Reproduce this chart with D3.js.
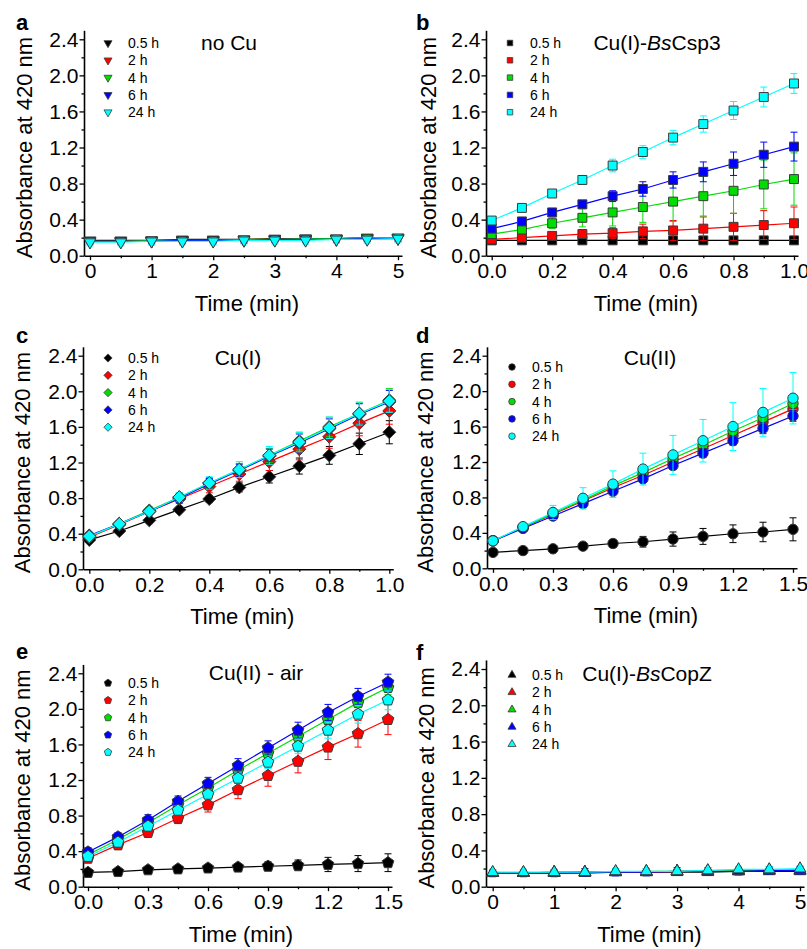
<!DOCTYPE html>
<html><head><meta charset="utf-8">
<script src="https://cdn.jsdelivr.net/npm/d3@7"></script>
<style>body{margin:0;background:#fff} svg{display:block} text{font-family:"Liberation Sans",Arial,sans-serif;fill:#000}</style>
</head><body><svg id="chart" width="807" height="949"></svg>
<script>
// ---------- data ----------
const seriesLabels = ["0.5 h", "2 h", "4 h", "6 h", "24 h"];
const seriesColors = ["#000000", "#ff0000", "#00dd00", "#0000ff", "#00ffff"];

const timeLong = [0, 0.5, 1, 1.5, 2, 2.5, 3, 3.5, 4, 4.5, 5];
const timeShort = [0, 0.1, 0.2, 0.3, 0.4, 0.5, 0.6, 0.7, 0.8, 0.9, 1.0];
const timeMid = [0, 0.15, 0.3, 0.45, 0.6, 0.75, 0.9, 1.05, 1.2, 1.35, 1.5];

const yTickLabels = ["0.0", "0.4", "0.8", "1.2", "1.6", "2.0", "2.4"];
const xTicksLong = [0, 1, 2, 3, 4, 5];
const xTicksShort = [0, 0.2, 0.4, 0.6, 0.8, 1.0];
const xTicksMid = [0, 0.3, 0.6, 0.9, 1.2, 1.5];

// a: no Cu
const noCuValues = [
  [0.17, 0.17, 0.17, 0.18, 0.18, 0.18, 0.19, 0.19, 0.19, 0.20, 0.20],
  [0.16, 0.16, 0.17, 0.17, 0.17, 0.18, 0.18, 0.19, 0.19, 0.19, 0.20],
  [0.16, 0.16, 0.17, 0.17, 0.17, 0.18, 0.18, 0.19, 0.19, 0.20, 0.20],
  [0.16, 0.16, 0.16, 0.17, 0.17, 0.17, 0.18, 0.18, 0.18, 0.19, 0.19],
  [0.15, 0.15, 0.16, 0.16, 0.16, 0.17, 0.17, 0.17, 0.18, 0.18, 0.19]
];
const noCuErrors = [
  [0.02, 0.02, 0.02, 0.02, 0.02, 0.02, 0.02, 0.02, 0.02, 0.02, 0.02],
  [0.02, 0.02, 0.02, 0.02, 0.02, 0.02, 0.02, 0.02, 0.02, 0.02, 0.02],
  [0.02, 0.02, 0.02, 0.02, 0.02, 0.02, 0.02, 0.02, 0.02, 0.02, 0.02],
  [0.03, 0.03, 0.03, 0.03, 0.03, 0.03, 0.03, 0.03, 0.03, 0.03, 0.03],
  [0.04, 0.04, 0.04, 0.04, 0.04, 0.04, 0.04, 0.04, 0.04, 0.04, 0.04]
];

// b: Cu(I)-BsCsp3
const csp3Values = [
  [0.17, 0.17, 0.17, 0.17, 0.17, 0.17, 0.17, 0.17, 0.17, 0.17, 0.17],
  [0.18, 0.20, 0.22, 0.24, 0.25, 0.27, 0.28, 0.30, 0.32, 0.34, 0.36],
  [0.24, 0.29, 0.36, 0.42, 0.48, 0.54, 0.60, 0.66, 0.72, 0.79, 0.85],
  [0.30, 0.38, 0.48, 0.57, 0.66, 0.74, 0.84, 0.93, 1.02, 1.12, 1.21],
  [0.39, 0.53, 0.69, 0.84, 1.00, 1.15, 1.31, 1.46, 1.61, 1.76, 1.91]
];
const csp3Errors = [
  [0.02, 0.02, 0.02, 0.02, 0.02, 0.02, 0.02, 0.02, 0.02, 0.02, 0.02],
  [0.02, 0.03, 0.04, 0.05, 0.06, 0.08, 0.11, 0.13, 0.15, 0.16, 0.18],
  [0.02, 0.04, 0.06, 0.10, 0.15, 0.17, 0.22, 0.22, 0.25, 0.27, 0.29],
  [0.02, 0.02, 0.03, 0.04, 0.06, 0.08, 0.09, 0.11, 0.13, 0.14, 0.16],
  [0.03, 0.03, 0.04, 0.05, 0.07, 0.07, 0.08, 0.09, 0.10, 0.11, 0.11]
];

// c: Cu(I)
const cu1Values = [
  [0.33, 0.43, 0.55, 0.67, 0.79, 0.92, 1.04, 1.16, 1.28, 1.41, 1.54],
  [0.36, 0.50, 0.65, 0.79, 0.93, 1.07, 1.21, 1.35, 1.49, 1.64, 1.78],
  [0.37, 0.51, 0.66, 0.81, 0.97, 1.12, 1.28, 1.44, 1.60, 1.75, 1.90],
  [0.38, 0.51, 0.65, 0.80, 0.96, 1.11, 1.27, 1.42, 1.58, 1.74, 1.88],
  [0.37, 0.51, 0.65, 0.81, 0.97, 1.12, 1.28, 1.43, 1.59, 1.75, 1.89]
];
const cu1Errors = [
  [0.02, 0.02, 0.03, 0.03, 0.04, 0.05, 0.07, 0.09, 0.10, 0.12, 0.13],
  [0.02, 0.03, 0.04, 0.05, 0.07, 0.08, 0.10, 0.12, 0.13, 0.14, 0.15],
  [0.03, 0.03, 0.04, 0.05, 0.06, 0.07, 0.08, 0.10, 0.11, 0.12, 0.13],
  [0.03, 0.03, 0.04, 0.05, 0.06, 0.07, 0.08, 0.10, 0.11, 0.12, 0.13],
  [0.03, 0.03, 0.04, 0.05, 0.07, 0.09, 0.10, 0.11, 0.12, 0.13, 0.13]
];

// d: Cu(II)
const cu2Values = [
  [0.18, 0.20, 0.22, 0.25, 0.28, 0.30, 0.33, 0.36, 0.39, 0.41, 0.44],
  [0.31, 0.46, 0.61, 0.76, 0.91, 1.05, 1.20, 1.35, 1.50, 1.65, 1.80],
  [0.31, 0.46, 0.62, 0.77, 0.93, 1.08, 1.24, 1.39, 1.55, 1.70, 1.86],
  [0.31, 0.45, 0.59, 0.73, 0.87, 1.01, 1.16, 1.30, 1.44, 1.58, 1.72],
  [0.31, 0.47, 0.63, 0.79, 0.95, 1.12, 1.28, 1.44, 1.60, 1.76, 1.92]
];
const cu2Errors = [
  [0.03, 0.02, 0.03, 0.03, 0.04, 0.06, 0.08, 0.09, 0.10, 0.11, 0.13],
  [0.02, 0.02, 0.03, 0.03, 0.04, 0.05, 0.06, 0.07, 0.08, 0.09, 0.10],
  [0.02, 0.02, 0.03, 0.03, 0.04, 0.04, 0.05, 0.05, 0.06, 0.06, 0.07],
  [0.02, 0.02, 0.02, 0.03, 0.03, 0.04, 0.04, 0.05, 0.05, 0.06, 0.06],
  [0.02, 0.04, 0.08, 0.12, 0.15, 0.18, 0.22, 0.24, 0.27, 0.27, 0.29]
];

// e: Cu(II) - air
const cu2AirValues = [
  [0.16, 0.17, 0.19, 0.20, 0.21, 0.22, 0.23, 0.24, 0.25, 0.26, 0.27],
  [0.32, 0.47, 0.61, 0.77, 0.92, 1.09, 1.25, 1.41, 1.57, 1.72, 1.88],
  [0.36, 0.53, 0.72, 0.92, 1.11, 1.31, 1.50, 1.69, 1.88, 2.07, 2.24],
  [0.39, 0.56, 0.75, 0.96, 1.16, 1.36, 1.56, 1.76, 1.96, 2.14, 2.30],
  [0.34, 0.50, 0.68, 0.86, 1.04, 1.22, 1.40, 1.58, 1.76, 1.94, 2.10]
];
const cu2AirErrors = [
  [0.02, 0.02, 0.02, 0.03, 0.03, 0.04, 0.05, 0.06, 0.08, 0.09, 0.10],
  [0.02, 0.03, 0.04, 0.06, 0.08, 0.10, 0.12, 0.13, 0.14, 0.15, 0.17],
  [0.03, 0.03, 0.04, 0.05, 0.05, 0.06, 0.06, 0.07, 0.07, 0.08, 0.08],
  [0.05, 0.05, 0.06, 0.06, 0.07, 0.08, 0.08, 0.09, 0.09, 0.09, 0.09],
  [0.03, 0.03, 0.04, 0.05, 0.05, 0.06, 0.07, 0.08, 0.09, 0.10, 0.11]
];

// f: Cu(I)-BsCopZ
const copZValues = [
  [0.15, 0.15, 0.15, 0.15, 0.16, 0.16, 0.16, 0.16, 0.17, 0.17, 0.17],
  [0.15, 0.15, 0.16, 0.16, 0.16, 0.16, 0.17, 0.17, 0.17, 0.18, 0.18],
  [0.15, 0.15, 0.16, 0.16, 0.16, 0.17, 0.17, 0.17, 0.18, 0.18, 0.18],
  [0.15, 0.15, 0.15, 0.16, 0.16, 0.16, 0.17, 0.17, 0.17, 0.18, 0.18],
  [0.16, 0.16, 0.16, 0.16, 0.17, 0.17, 0.17, 0.18, 0.19, 0.19, 0.20]
];
const copZErrors = [
  [0.02, 0.02, 0.02, 0.02, 0.02, 0.02, 0.02, 0.02, 0.02, 0.02, 0.02],
  [0.02, 0.02, 0.02, 0.02, 0.02, 0.02, 0.02, 0.02, 0.02, 0.02, 0.02],
  [0.02, 0.02, 0.02, 0.02, 0.02, 0.02, 0.02, 0.02, 0.02, 0.02, 0.02],
  [0.04, 0.04, 0.04, 0.04, 0.04, 0.04, 0.04, 0.04, 0.04, 0.04, 0.04],
  [0.03, 0.03, 0.03, 0.03, 0.03, 0.03, 0.03, 0.03, 0.03, 0.03, 0.03]
];

// ---------- symbols ----------
const symPentagon = {
  draw(ctx, size) {
    const r = Math.sqrt(size / 2.378);
    for (let i = 0; i < 5; i++) {
      const a = -Math.PI / 2 + i * 2 * Math.PI / 5;
      const px = r * Math.cos(a), py = r * Math.sin(a);
      if (i === 0) ctx.moveTo(px, py); else ctx.lineTo(px, py);
    }
    ctx.closePath();
  }
};
const symTriDown = {
  draw(ctx, size) {
    const s = Math.sqrt(size / (Math.sqrt(3) / 4));
    const h = s * Math.sqrt(3) / 2;
    ctx.moveTo(-s / 2, -h / 3);
    ctx.lineTo(s / 2, -h / 3);
    ctx.lineTo(0, 2 * h / 3);
    ctx.closePath();
  }
};
const symTriUp = {
  draw(ctx, size) {
    const s = Math.sqrt(size / (Math.sqrt(3) / 4));
    const h = s * Math.sqrt(3) / 2;
    ctx.moveTo(-s / 2, h / 3);
    ctx.lineTo(s / 2, h / 3);
    ctx.lineTo(0, -2 * h / 3);
    ctx.closePath();
  }
};
const symDiamond = {
  draw(ctx, size) {
    const r = Math.sqrt(size / 2);
    ctx.moveTo(0, -r); ctx.lineTo(r, 0); ctx.lineTo(0, r); ctx.lineTo(-r, 0); ctx.closePath();
  }
};

// ---------- layout ----------
const panels = [
  { letter: "a", title: [["no Cu", false]], time: timeLong, vals: noCuValues, errs: noCuErrors, sym: symTriDown, size: 60, lsize: 28,
    xTicks: xTicksLong, xStep: 0.5, xFmt: d3.format("d"),
    axisX: 84, x0: 90, x1: 398, y0: 255.7, y24: 39.3, legX: 108, legY: 43, titleX: 229, titleY: 50, lx: 16, ly: 30, ylabX: 24 },
  { letter: "b", title: [["Cu(I)-", false], ["Bs", true], ["Csp3", false]], time: timeShort, vals: csp3Values, errs: csp3Errors, sym: d3.symbolSquare, size: 80, lsize: 30,
    xTicks: xTicksShort, xStep: 0.1, xFmt: d3.format(".1f"),
    axisX: 486, x0: 491.7, x1: 794, y0: 255.7, y24: 39.3, legX: 510, legY: 43, titleX: 657, titleY: 50, lx: 416, ly: 30, ylabX: 428 },
  { letter: "c", title: [["Cu(I)", false]], time: timeShort, vals: cu1Values, errs: cu1Errors, sym: symDiamond, size: 85, lsize: 34,
    xTicks: xTicksShort, xStep: 0.1, xFmt: d3.format(".1f"),
    axisX: 83, x0: 89.3, x1: 389.3, y0: 569.3, y24: 355.7, legX: 108, legY: 358, titleX: 238, titleY: 365, lx: 16, ly: 343, ylabX: 22 },
  { letter: "d", title: [["Cu(II)", false]], time: timeMid, vals: cu2Values, errs: cu2Errors, sym: d3.symbolCircle, size: 85, lsize: 34,
    xTicks: xTicksMid, xStep: 0.15, xFmt: d3.format(".1f"),
    axisX: 487, x0: 493, x1: 793, y0: 568.3, y24: 355.7, legX: 512, legY: 367, titleX: 650, titleY: 365, lx: 416, ly: 343, ylabX: 425 },
  { letter: "e", title: [["Cu(II) - air", false]], time: timeMid, vals: cu2AirValues, errs: cu2AirErrors, sym: symPentagon, size: 90, lsize: 36,
    xTicks: xTicksMid, xStep: 0.15, xFmt: d3.format(".1f"),
    axisX: 83, x0: 88, x1: 388, y0: 886.7, y24: 673.3, legX: 108, legY: 683, titleX: 256, titleY: 680, lx: 16, ly: 659, ylabX: 22 },
  { letter: "f", title: [["Cu(I)-", false], ["Bs", true], ["CopZ", false]], time: timeLong, vals: copZValues, errs: copZErrors, sym: symTriUp, size: 60, lsize: 28,
    xTicks: xTicksLong, xStep: 0.5, xFmt: d3.format("d"),
    axisX: 486, x0: 492.7, x1: 800, y0: 886.7, y24: 669, legX: 512, legY: 675, titleX: 647, titleY: 681, lx: 416, ly: 660, ylabX: 426 }
];

const svg = d3.select("#chart");
const yTickVals = yTickLabels.map(Number);

panels.forEach(p => {
  const g = svg.append("g");
  const xmin = p.time[0], xmax = p.time[p.time.length - 1];
  const x = d3.scaleLinear().domain([xmin, xmax]).range([p.x0, p.x1]);
  const y = d3.scaleLinear().domain([0, 2.4]).range([p.y0, p.y24]);
  const xAx = x.copy().domain([x.invert(p.axisX), x.invert(p.x1 + 4)]).range([p.axisX, p.x1 + 4]);
  const yAx = y.copy().domain([0, 2.5]).range([p.y0, y(2.5)]);

  // minor ticks
  const xMinor = d3.range(xmin, xmax + 1e-9, p.xStep).map(v => +v.toFixed(3)).filter(v => !p.xTicks.some(t => Math.abs(t - v) < 1e-6));
  g.append("g").attr("transform", `translate(0,${p.y0})`)
    .call(d3.axisBottom(xAx).tickValues(xMinor).tickSize(2.5).tickFormat(""))
    .call(s => s.select(".domain").remove())
    .call(s => s.selectAll("line").attr("stroke-width", 1.3));
  g.append("g").attr("transform", `translate(${p.axisX},0)`)
    .call(d3.axisLeft(yAx).tickValues([0.2, 0.6, 1.0, 1.4, 1.8, 2.2]).tickSize(2.5).tickFormat(""))
    .call(s => s.select(".domain").remove())
    .call(s => s.selectAll("line").attr("stroke-width", 1.3));

  // major axes
  const xAxisG = g.append("g").attr("transform", `translate(0,${p.y0})`)
    .call(d3.axisBottom(xAx).tickValues(p.xTicks).tickFormat(p.xFmt).tickSize(4.5).tickSizeOuter(0).tickPadding(3));
  xAxisG.selectAll("text").style("font-size", "21px").style("font-family", '"Liberation Sans",Arial,sans-serif').attr("fill", "#000");
  const yAxisG = g.append("g").attr("transform", `translate(${p.axisX},0)`)
    .call(d3.axisLeft(yAx).tickValues(yTickVals).tickFormat((d, i) => yTickLabels[i]).tickSize(4.5).tickSizeOuter(0).tickPadding(1));
  yAxisG.selectAll("text").style("font-size", "21px").style("font-family", '"Liberation Sans",Arial,sans-serif').attr("fill", "#000");
  [xAxisG, yAxisG].forEach(a => {
    a.select(".domain").attr("stroke-width", 1.6).attr("stroke", "#000");
    a.selectAll(".tick line").attr("stroke-width", 1.3).attr("stroke", "#000");
  });

  // series
  const line = d3.line().x((d, i) => x(p.time[i])).y(d => y(d));
  const symbolGen = d3.symbol().type(p.sym).size(p.size);
  p.vals.forEach((vals, si) => {
    const col = seriesColors[si];
    const sg = g.append("g");
    sg.append("path").datum(vals).attr("d", line).attr("fill", "none").attr("stroke", col).attr("stroke-width", 1.2);
    const eb = sg.append("g").attr("stroke", col).attr("stroke-width", 1);
    vals.forEach((v, i) => {
      const e = p.errs[si][i];
      const cx = x(p.time[i]);
      eb.append("line").attr("x1", cx).attr("x2", cx).attr("y1", y(v - e)).attr("y2", y(v + e));
      eb.append("line").attr("x1", cx - 3.5).attr("x2", cx + 3.5).attr("y1", y(v + e)).attr("y2", y(v + e));
      eb.append("line").attr("x1", cx - 3.5).attr("x2", cx + 3.5).attr("y1", y(v - e)).attr("y2", y(v - e));
    });
    sg.selectAll("path.m").data(vals).join("path").attr("class", "m")
      .attr("d", symbolGen)
      .attr("transform", (d, i) => `translate(${x(p.time[i])},${y(d)})`)
      .attr("fill", col).attr("stroke", "#3a3a3a").attr("stroke-width", 1);
  });

  // legend
  const legSym = d3.symbol().type(p.sym).size(p.lsize);
  seriesLabels.forEach((lab, si) => {
    const ly = p.legY + si * 17.3;
    g.append("path").attr("d", legSym).attr("transform", `translate(${p.legX},${ly})`)
      .attr("fill", seriesColors[si]).attr("stroke", "#3a3a3a").attr("stroke-width", 0.8);
    g.append("text").attr("x", p.legX + 20).attr("y", ly).attr("dy", "0.36em")
      .style("font-size", "14px").text(lab);
  });

  // title
  const t = g.append("text").attr("x", p.titleX).attr("y", p.titleY).attr("text-anchor", "middle").style("font-size", "21px");
  p.title.forEach(([s, it]) => t.append("tspan").style("font-style", it ? "italic" : "normal").text(s));

  // panel letter
  g.append("text").attr("x", p.lx).attr("y", p.ly).style("font-size", "22px").style("font-weight", "bold").text(p.letter);

  // axis titles
  g.append("text").attr("transform", `translate(${p.ylabX},${(p.y0 + p.y24) / 2}) rotate(-90)`)
    .attr("text-anchor", "middle").attr("dy", "0.36em").style("font-size", "22px").text("Absorbance at 420 nm");
  g.append("text").attr("x", (p.x0 + p.x1) / 2 + 3).attr("y", p.y0 + 55)
    .attr("text-anchor", "middle").style("font-size", "22px").text("Time (min)");
});
</script>
</body></html>
